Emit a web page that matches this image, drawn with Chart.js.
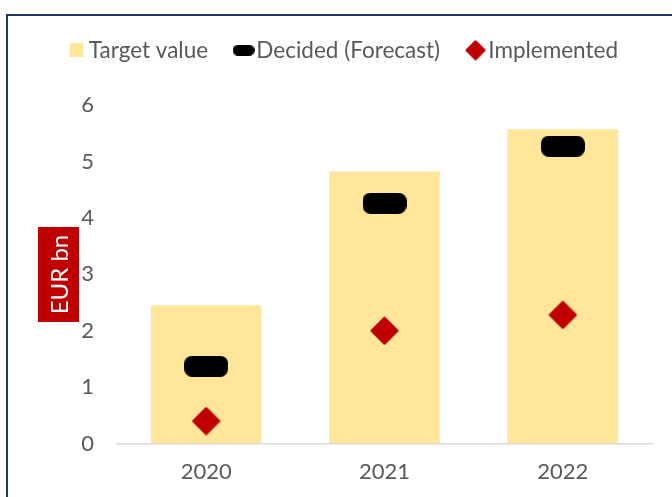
<!DOCTYPE html>
<html>
<head>
<meta charset="utf-8">
<script src="https://cdn.jsdelivr.net/npm/chart.js@4.4.1/dist/chart.umd.min.js"></script>
<style>
  html, body { margin: 0; padding: 0; background: #fff; }
  #wrap { position: relative; width: 672px; height: 497px; overflow: hidden; }
  #frame { position: absolute; left: 6px; top: 14px; width: 700px; height: 520px; border: 2px solid #1F3864; box-sizing: border-box; }
  canvas { position: absolute; left: 0; top: 0; }
</style>
</head>
<body>
<div id="wrap">
  <div id="frame"></div>
  <canvas id="chart" width="672" height="497"></canvas>
</div>
<script>
const years = ['2020', '2021', '2022'];
const targetValue = [2.45, 4.82, 5.57];
const decided = [1.37, 4.26, 5.27];
const implemented = [0.40, 2.00, 2.28];
const yTicks = [0, 1, 2, 3, 4, 5, 6];

const FONT = 'Lato';
const GREY = '#595959';

// small canvases used as point styles
function pill(w, h, r, color) {
    const c = document.createElement('canvas');
    c.width = w; c.height = h;
    const ctx = c.getContext('2d');
    ctx.fillStyle = color;
    ctx.beginPath();
    ctx.roundRect(0, 0, w, h, r);
    ctx.fill();
    return c;
}

function diamond(size, color) {
    const c = document.createElement('canvas');
    c.width = size; c.height = size;
    const ctx = c.getContext('2d');
    const m = size / 2, r = size / 2 - 2;
    ctx.fillStyle = color;
    ctx.strokeStyle = color;
    ctx.lineWidth = 3;
    ctx.lineJoin = 'round';
    ctx.beginPath();
    ctx.moveTo(m, m - r);
    ctx.lineTo(m + r, m);
    ctx.lineTo(m, m + r);
    ctx.lineTo(m - r, m);
    ctx.closePath();
    ctx.fill();
    ctx.stroke();
    return c;
}

function box(w, h, color) {
    const c = document.createElement('canvas');
    c.width = w; c.height = h;
    const ctx = c.getContext('2d');
    ctx.fillStyle = color;
    ctx.fillRect(0, 0, w, h);
    return c;
}

const pillImg = pill(44, 21, 8, '#000000');
const diamondImg = diamond(29, '#C00000');
const legendIcons = [box(13, 14, '#FFE699'), pill(22, 11, 5.5, '#000000'), diamond(21, '#C00000')];

// red box behind the rotated y axis title
const axisTitleBox = {
    id: 'axisTitleBox',
    afterInit(chart) {
        // leave room between the legend and the plot
        const legend = chart.legend;
        const fit = legend.fit;
        legend.fit = function () {
            fit.call(this);
            this.height = 100;
        };
    },
    afterDraw(chart) {
        const ctx = chart.ctx;
        ctx.save();
        ctx.fillStyle = '#C00000';
        ctx.fillRect(38, 227, 41, 95);
        ctx.translate(59.5, 274.5);
        ctx.rotate(-Math.PI / 2);
        ctx.fillStyle = '#ffffff';
        ctx.font = '24px ' + FONT;
        ctx.textAlign = 'center';
        ctx.textBaseline = 'middle';
        ctx.fillText('EUR bn', 0, 1);
        ctx.restore();
    }
};

new Chart(document.getElementById('chart'), {
    data: {
        labels: years,
        datasets: [
            {
                type: 'line',
                label: 'Implemented',
                data: implemented,
                showLine: false,
                pointStyle: diamondImg,
                order: 1
            },
            {
                type: 'line',
                label: 'Decided (Forecast)',
                data: decided,
                showLine: false,
                pointStyle: pillImg,
                order: 2
            },
            {
                type: 'bar',
                label: 'Target value',
                data: targetValue,
                backgroundColor: '#FFE699',
                barPercentage: 0.62,
                categoryPercentage: 1,
                order: 3
            }
        ]
    },
    options: {
        responsive: false,
        animation: false,
        layout: {
            padding: { left: 0, right: 20, top: 5, bottom: 5 }
        },
        plugins: {
            tooltip: { enabled: false },
            legend: {
                position: 'top',
                align: 'end',
                labels: {
                    usePointStyle: true,
                    boxWidth: 3,
                    padding: 34,
                    color: GREY,
                    font: { family: FONT, size: 22.5 },
                    generateLabels(chart) {
                        const names = ['Target value', 'Decided (Forecast)', 'Implemented'];
                        return names.map((name, i) => ({
                            text: name,
                            pointStyle: legendIcons[i],
                            fillStyle: 'transparent',
                            strokeStyle: 'transparent',
                            lineWidth: 0,
                            fontColor: GREY,
                            datasetIndex: 2 - i
                        }));
                    }
                }
            }
        },
        scales: {
            x: {
                grid: { display: false },
                border: { color: '#D9D9D9', width: 1.5 },
                ticks: { color: GREY, font: { family: FONT, size: 22 }, padding: 7 }
            },
            y: {
                min: 0,
                max: 6,
                grid: { display: false, drawTicks: false },
                border: { display: false },
                afterBuildTicks(scale) {
                    scale.ticks = yTicks.map(v => ({ value: v }));
                },
                afterFit(scale) {
                    scale.width = 117;
                },
                ticks: { color: GREY, font: { family: FONT, size: 22 }, padding: 23 }
            }
        }
    },
    plugins: [axisTitleBox]
});
</script>
</body>
</html>
